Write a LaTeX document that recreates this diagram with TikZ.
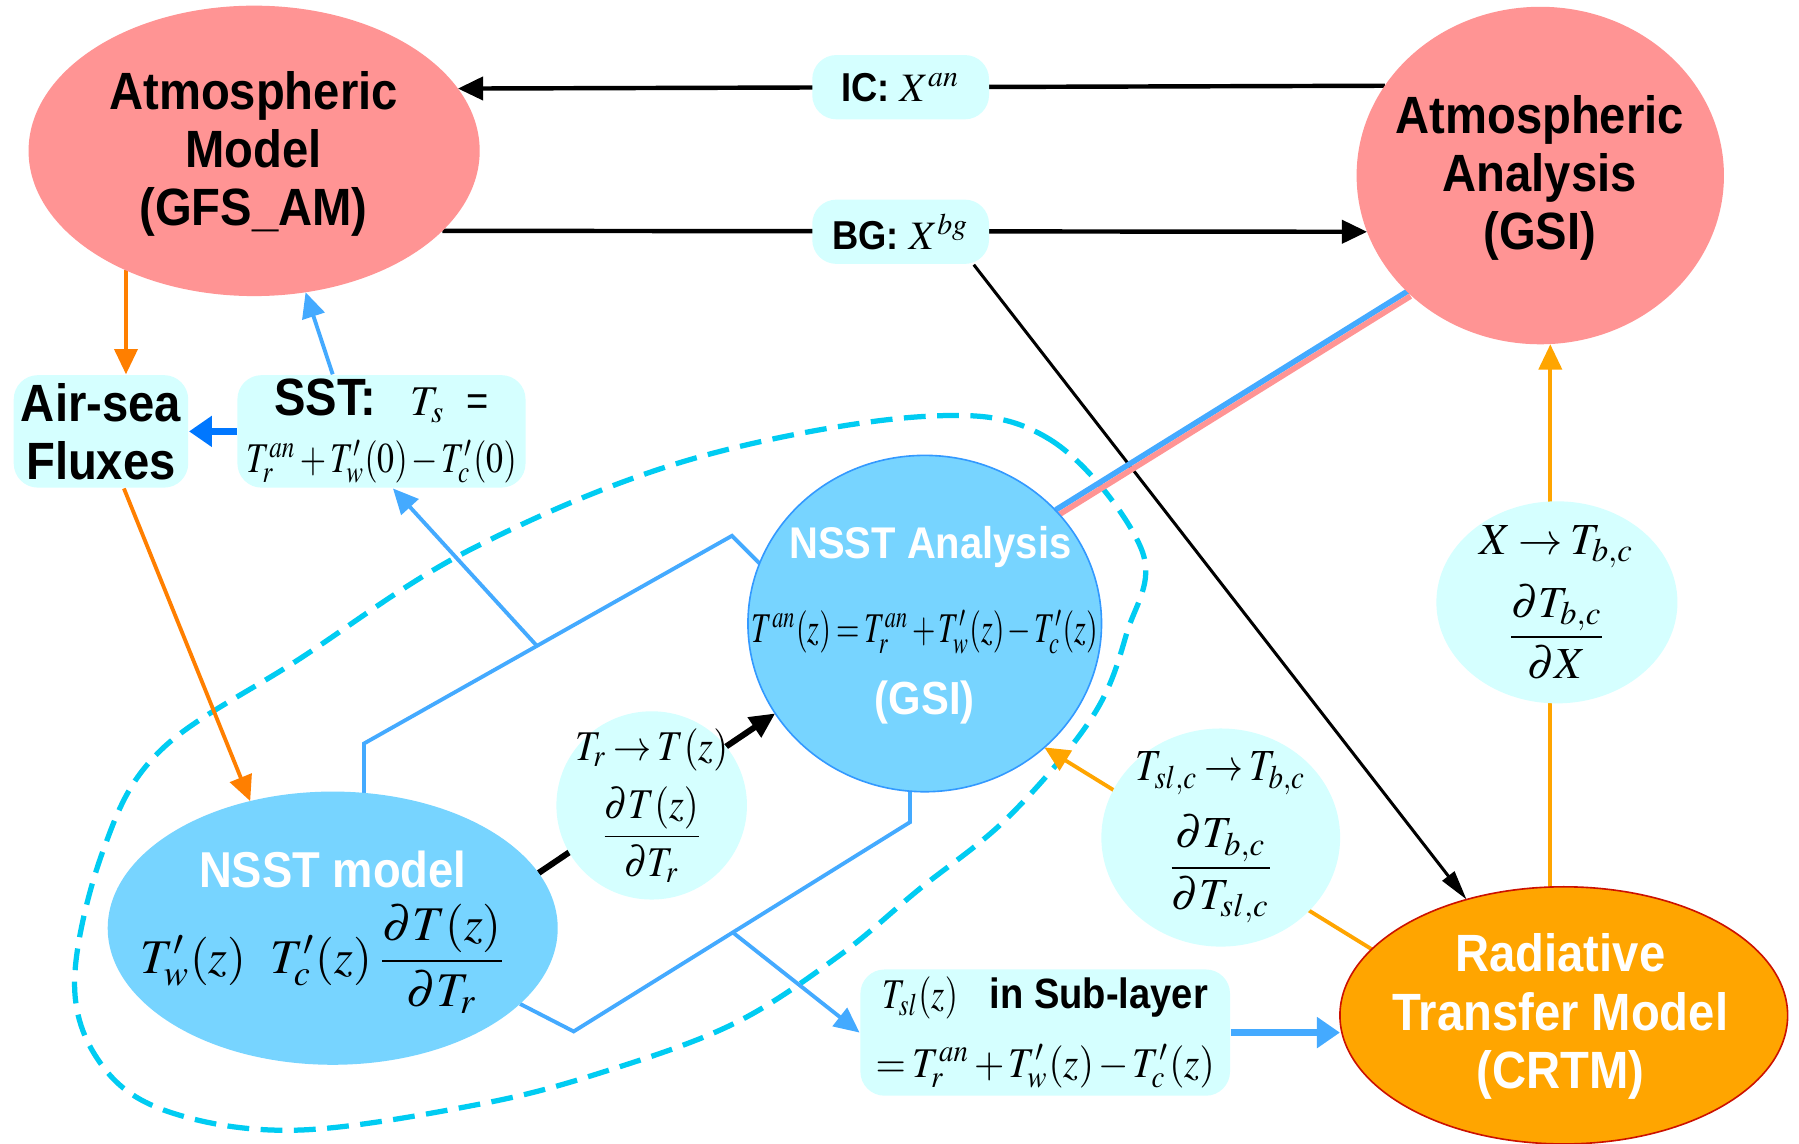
\documentclass[tikz,border=0pt]{standalone}
\usepackage{amsmath}
\usepackage{graphicx}
\usepackage{mathptmx}
\usepackage[no-math]{fontspec}
\setmainfont{Liberation Sans}[FakeStretch=0.9]
\usepackage{xcolor}
\usepackage{tikz}
\usetikzlibrary{
  shapes.geometric, arrows.meta, positioning, calc, backgrounds
}
\definecolor{salmon}{HTML}{FF9494}
\definecolor{icecyan}{HTML}{D5FFFF}
\definecolor{skyfill}{HTML}{77D4FF}
\definecolor{skyedge}{HTML}{3399FF}
\definecolor{lineblue}{HTML}{44AAFF}
\definecolor{deepblue}{HTML}{0077FF}
\definecolor{fluxorange}{HTML}{FF7F00}
\definecolor{rtorange}{HTML}{FFA500}
\definecolor{rtedge}{HTML}{CC1100}
\definecolor{loopcyan}{HTML}{00CCF2}
\newcommand{\tightmath}{\medmuskip=2mu\relax\thickmuskip=3mu\relax}
%% narrow maths, as in the figure
\newcommand{\nmath}[2]{\scalebox{#1}[1]{$#2$}}
\tikzset{
  %% Filled ellipse, size given per node
  ell/.style={ellipse, fill=#1, inner sep=0pt, outer sep=0pt},
  ell/.default=salmon,
  %% Light cyan label box
  cbox/.style={rectangle, rounded corners=6pt, fill=icecyan,
    inner sep=1pt, align=center, execute at begin node=\tightmath},
  %% Bold label text
  etxt/.style={align=center, text=#1, inner sep=0pt,
    font=\fontsize{13}{14.4}\selectfont\bfseries},
  etxt/.default=black,
  %% Maths text
  mtxt/.style={align=center, inner sep=0pt,
    font=\fontsize{#1}{#1}\selectfont, execute at begin node=\tightmath},
  mtxt/.default=10.5,
  %% Arrows
  karr/.style={-{Triangle[length=0.22cm,width=0.2cm]},
    draw=black, line width=1.1pt},
  kthin/.style={-{Triangle[length=0.26cm,width=0.13cm]},
    draw=black, line width=0.75pt},
  oarr/.style={-{Triangle[length=0.22cm,width=0.2cm]},
    draw=#1, line width=0.95pt},
  oarr/.default=fluxorange,
  barr/.style={-{Triangle[length=0.22cm,width=0.2cm]},
    draw=lineblue, line width=0.95pt},
  fatarr/.style={-{Triangle[length=0.2cm,width=0.26cm]},
    draw=#1, line width=1.7pt},
  %% Plain lines
  bline/.style={draw=lineblue, line width=0.95pt},
  ringdash/.style={draw=loopcyan, line width=1.3pt,
    dash pattern=on 0.19cm off 0.1cm},
}

\begin{document}
\begin{tikzpicture}[x=0.01cm, y=-0.01cm]
  \useasboundingbox (0,0) rectangle (1568,997);

  %% Main ellipses
  \node[ell=salmon, minimum width=3.93cm, minimum height=2.53cm]
       (am) at (221.5,131.5) {};
  \node[ell=salmon, minimum width=3.2cm, minimum height=2.94cm]
       (aa) at (1342.5,153) {};
  \node[ell=skyfill, minimum width=3.92cm, minimum height=2.38cm]
       (nsst) at (290,809) {};
  \node[ell=skyfill, draw=skyedge, line width=0.4pt,
        minimum width=3.08cm, minimum height=2.93cm]
       (nsa) at (806,543.5) {};
  \node[ell=rtorange, draw=rtedge, line width=0.4pt,
        minimum width=3.9cm, minimum height=2.24cm]
       (crtm) at (1363,885) {};

  %% Small cyan ellipses
  \node[ell=icecyan, minimum width=1.66cm, minimum height=1.64cm]
       (trell) at (568,702) {};
  \node[ell=icecyan, minimum width=2.1cm, minimum height=1.76cm]
       (xell) at (1357,525) {};
  \node[ell=icecyan, minimum width=2.08cm, minimum height=1.9cm]
       (slell) at (1064,730) {};

  %% Boxes
  \node[cbox, minimum width=1.52cm, minimum height=0.98cm,
        font=\fontsize{13}{14.4}\selectfont\bfseries]
       (airsea) at (88,376) {Air-sea\\Fluxes};
  \node[cbox, minimum width=2.51cm, minimum height=0.98cm,
        font=\fontsize{10.5}{13}\selectfont]
       (sst) at (332.5,376)
       {{\fontsize{13}{14}\selectfont\bfseries SST:}\hspace{0.3cm}$T_s$\ \ =\\[1pt]
        \nmath{0.8}{T_r^{an}+T'_w(0)-T'_c(0)}};
  \node[cbox, minimum width=1.54cm, minimum height=0.56cm,
        font=\fontsize{10}{12}\selectfont]
       (ic) at (785,76) {\textbf{IC:} $X^{an}$};
  \node[cbox, minimum width=1.54cm, minimum height=0.56cm,
        font=\fontsize{10}{12}\selectfont]
       (bg) at (785,202) {\textbf{BG:} $X^{bg}$};
  \node[cbox, minimum width=3.22cm, minimum height=1.1cm,
        font=\fontsize{10.5}{13}\selectfont]
       (tsl) at (911,900)
       {\nmath{0.8}{T_{sl}(z)}\ \ \ \textbf{in Sub-layer}\\[4pt]
        \nmath{0.92}{=T_r^{an}+T'_w(z)-T'_c(z)}};

  %% Texts in ellipses
  \node[etxt] (am-txt) at (221,134) {Atmospheric\\Model\\(GFS\_AM)};
  \node[etxt] (aa-txt) at (1342,155) {Atmospheric\\Analysis\\(GSI)};
  \node[etxt=white] (crtm-txt) at (1360,886)
       {Radiative\\Transfer Model\\(CRTM)};
  \node[etxt=white, font=\fontsize{12.5}{14}\selectfont\bfseries]
       (nsst-txt) at (290,758) {NSST model};
  \node[mtxt=12] (nsst-eq) at (282,836)
       {$T'_w(z)\ \ T'_c(z)\,\dfrac{\partial T(z)}{\partial T_r}$};
  \node[etxt=white, font=\fontsize{11}{13}\selectfont\bfseries]
       (nsa-txt) at (811,477) {NSST Analysis};
  \node[mtxt=10.5] (nsa-eq) at (806,551)
       {\nmath{0.71}{T^{an}(z)=T_r^{an}+T'_w(z)-T'_c(z)}};
  \node[etxt=white, font=\fontsize{11.5}{13}\selectfont\bfseries]
       (nsa-gsi) at (806,612) {(GSI)};
  \node[mtxt=10.5] (trell-txt) at (trell)
       {\nmath{0.9}{T_r\to T(z)}\\[3pt]\nmath{0.9}{\dfrac{\partial T(z)}{\partial T_r}}};
  \node[mtxt=11] (xell-txt) at (xell)
       {$X\to T_{b,c}$\\[3pt]$\dfrac{\partial T_{b,c}}{\partial X}$};
  \node[mtxt=11] (slell-txt) at (slell)
       {\nmath{0.88}{T_{sl,c}\to T_{b,c}}\\[4pt]$\dfrac{\partial T_{b,c}}{\partial T_{sl,c}}$};

  %% Connectors, behind boxes and ellipses
  \begin{scope}[on background layer]
    \fill[white] (0,0) rectangle (1568,997);
    \draw[ringdash] plot[smooth cycle, tension=0.6] coordinates {
      (805,363) (915,383) (995,479) (982,552) (952,625) (879,712)
      (800,776) (730,834) (640,892) (530,933) (420,962) (260,985)
      (150,970) (90,930) (65,857) (90,741) (140,654) (260,575)
      (410,479) (600,401)};

    %% Atmospheric cycle
    \draw[karr] (aa.150.5) -- (am.17.4);
    \draw[karr] (am.-23.8) -- (aa.198.4);
    \draw[kthin] ([xshift=-0.14cm]bg.south east) -- (crtm.130);
    \draw[oarr] (am.223) -- (am.223 |- airsea.north);
    \draw[oarr] ([xshift=0.2cm]airsea.south) -- (nsst.123);
    \draw[fatarr=deepblue] (sst.west) -- (airsea.east);
    \draw[barr] ([xshift=-0.425cm]sst.north) -- (am.-70);

    %% NSST links
    \draw[bline] (nsst.77) -- ++(0,-43) coordinate (up1)
      -- (638,467) coordinate (up2) -- (nsa.160);
    \draw[barr] ($(up1)!0.47!(up2)$) -- ([xshift=0.1cm]sst.south);
    \draw[bline] (nsa.-95.5) -- ++(0,27) coordinate (lo1)
      -- (500,899) coordinate (lo2) -- (nsst.-22);
    \draw[barr] ($(lo1)!0.527!(lo2)$) -- (tsl.west);
    \draw[fatarr=lineblue] (tsl.east) -- (tsl.east -| crtm.west);
    \draw[karr, line width=1.5pt] (nsst.15) -- (nsa.211.5);

    %% CRTM links
    \draw[oarr=rtorange] (crtm.96) -- (crtm.96 |- aa.south);
    \draw[oarr=rtorange] (crtm.161.3) -- (nsa.-46.2);

    %% NSST analysis to GSI
    \draw[draw=lineblue, line width=1.4pt]
      ([shift={(-1.3,-2.15)}]nsa.40.9) -- ([shift={(-1.3,-2.15)}]aa.222.8);
    \draw[draw=salmon, line width=1.4pt]
      ([shift={(1.3,2.15)}]nsa.40.9) -- ([shift={(1.3,2.15)}]aa.222.8);
  \end{scope}

\end{tikzpicture}
\end{document}
